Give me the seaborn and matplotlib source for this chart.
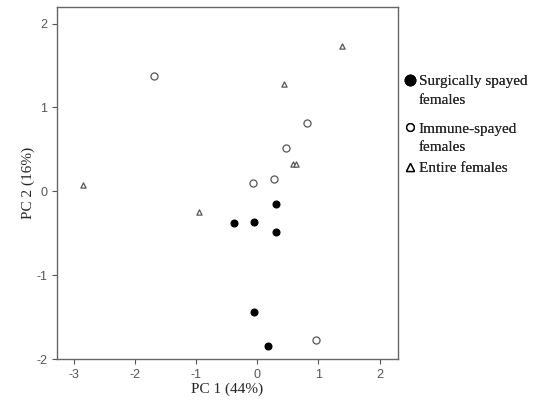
"""PCA scores: PC 1 vs PC 2 for three female groups."""

import pandas as pd
import seaborn as sns
import matplotlib.pyplot as plt
from matplotlib.lines import Line2D

# scores
surg_pc1 = [0.30, -0.38, -0.05, 0.31, -0.05, 0.17]
surg_pc2 = [-0.15, -0.38, -0.36, -0.48, -1.44, -1.85]

immune_pc1 = [-1.70, 0.81, 0.47, 0.27, -0.07, 0.96]
immune_pc2 = [1.37, 0.82, 0.52, 0.15, 0.10, -1.77]

entire_pc1 = [1.39, 0.44, 0.58, 0.63, -2.85, -0.95]
entire_pc2 = [1.73, 1.28, 0.33, 0.33, 0.08, -0.25]

groups = ["Surgically spayed", "Immune-spayed", "Entire females"]
# legend text for each group, one list item per line
legend_lines = [["Surgically spayed", "females"],
                ["Immune-spayed", "females"],
                ["Entire females"]]


def run():
    df = pd.concat([
        pd.DataFrame({"pc1": surg_pc1, "pc2": surg_pc2, "group": groups[0]}),
        pd.DataFrame({"pc1": immune_pc1, "pc2": immune_pc2, "group": groups[1]}),
        pd.DataFrame({"pc1": entire_pc1, "pc2": entire_pc2, "group": groups[2]}),
    ])

    sns.set_style("ticks")
    plt.rcParams["font.family"] = ["Liberation Sans", "DejaVu Sans"]
    plt.rcParams["axes.unicode_minus"] = False

    fig = plt.figure(figsize=(5.34, 4.03), dpi=100)
    ax = fig.add_axes([0.107, 0.109, 0.638, 0.874])

    # marker, face, edge, size per group
    looks = {
        groups[0]: ("o", "black", "black", 24),
        groups[1]: ("o", "white", "#555555", 26),
        groups[2]: ("^", "white", "#555555", 14),
    }
    for g in groups:
        m, fc, ec, s = looks[g]
        sns.scatterplot(data=df[df.group == g], x="pc1", y="pc2", marker=m,
                        facecolor=fc, edgecolor=ec, s=s, linewidth=0.9,
                        legend=False, ax=ax)

    ax.set_xlim(-3.28, 2.3)
    ax.set_ylim(-2.0, 2.2)
    ax.set_xticks([-3, -2, -1, 0, 1, 2])
    ax.set_yticks([-2, -1, 0, 1, 2])
    ax.tick_params(labelsize=9, colors="#555555", length=3.5, width=0.8)
    for sp in ax.spines.values():
        sp.set_color("#666666")
        sp.set_linewidth(1.0)

    serif = ["Liberation Serif", "DejaVu Serif"]
    ax.set_xlabel("PC 1 (44%)", family=serif, fontsize=11, labelpad=1)
    ax.set_ylabel("PC 2 (16%)", family=serif, fontsize=11, labelpad=1)

    # legend outside: one small legend per group so the marker sits by the first line
    proxies = [
        Line2D([], [], linestyle="none", marker="o", ms=7.5, mfc="black", mec="black"),
        Line2D([], [], linestyle="none", marker="o", ms=5.5, mfc="white", mec="black", mew=1.0),
        Line2D([], [], linestyle="none", marker="^", ms=6.0, mfc="white", mec="black", mew=1.0),
    ]
    tops = [0.815, 0.697, 0.600]
    blank = Line2D([], [], linestyle="none")
    for h, lines, top in zip(proxies, legend_lines, tops):
        leg = fig.legend([h] + [blank] * (len(lines) - 1), lines,
                         loc="upper left", bbox_to_anchor=(0.754, top),
                         frameon=False, handlelength=0.9, handletextpad=0.15,
                         labelspacing=0.32, borderpad=0, borderaxespad=0,
                         prop={"family": serif, "size": 11})
        fig.add_artist(leg)

    fig.savefig("out.png", dpi=100)


if __name__ == "__main__":
    run()
